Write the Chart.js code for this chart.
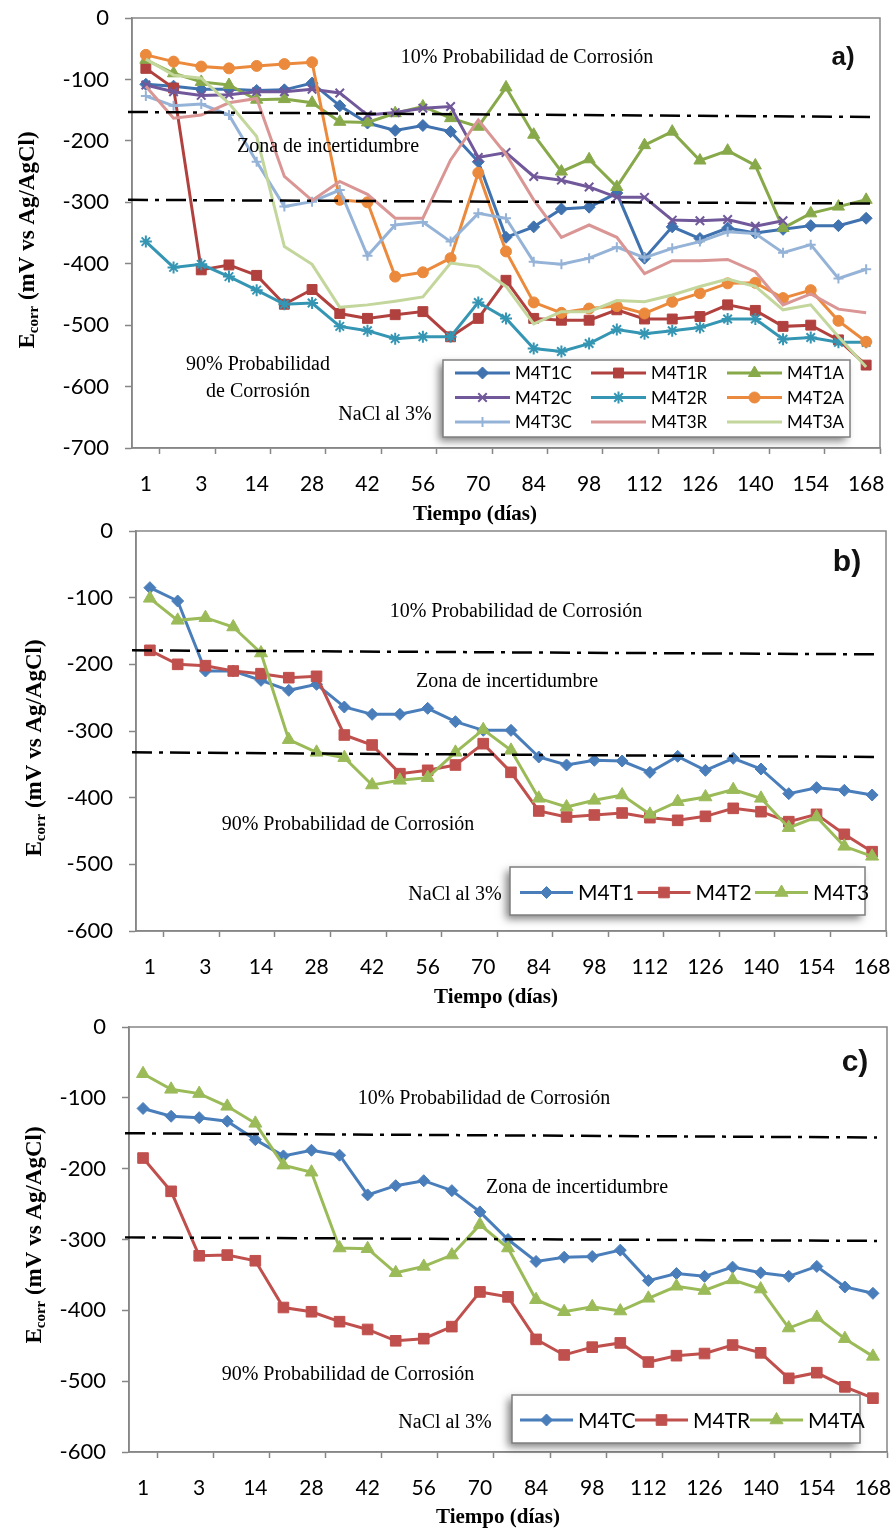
<!DOCTYPE html>
<html>
<head>
<meta charset="utf-8">
<title>Ecorr vs tiempo</title>
<script src="https://cdn.jsdelivr.net/npm/chart.js@4.4.1/dist/chart.umd.min.js"></script>
<style>
  html, body { margin: 0; padding: 0; background: #fff; }
  #wrap { position: relative; width: 896px; height: 1532px; overflow: hidden; }
  #wrap canvas { position: absolute; left: 0; }
</style>
</head>
<body>
<div id="wrap">
  <canvas id="chartA" width="896" height="530" style="top:0"></canvas>
  <canvas id="chartB" width="896" height="495" style="top:515px"></canvas>
  <canvas id="chartC" width="896" height="522" style="top:1010px"></canvas>
</div>
<script>
// Exposure days (every other one gets a label on the axis)
var days = ['1', '2', '3', '7', '14', '21', '28', '35', '42', '49', '56', '63', '70', '77',
            '84', '91', '98', '105', '112', '119', '126', '133', '140', '147', '154', '161', '168'];
var yTicksA = { min: -700, max: 0, step: 100 };
var yTicksBC = { min: -600, max: 0, step: 100 };

// a) individual specimens (mV vs Ag/AgCl)
var m4t1c = [-108, -111, -116, -116, -118, -117, -106, -143, -171, -183, -175, -185, -234, -357,
             -340, -311, -308, -285, -391, -340, -359, -342, -350, -344, -338, -338, -326];
var m4t1r = [-82, -114, -410, -402, -419, -466, -442, -481, -489, -483, -478, -519, -489, -427,
             -489, -492, -492, -475, -490, -490, -486, -467, -476, -502, -500, -524, -565];
var m4t1a = [-68, -90, -104, -109, -133, -132, -138, -169, -170, -155, -144, -163, -177, -113,
             -190, -250, -230, -275, -207, -185, -232, -216, -240, -342, -318, -307, -296];
var m4t2c = [-109, -120, -126, -125, -120, -120, -116, -122, -158, -154, -147, -144, -227, -219,
             -258, -264, -275, -292, -292, -329, -330, -328, -339, -330, null, null, null];
var m4t2r = [-364, -406, -401, -421, -443, -466, -464, -502, -509, -522, -519, -519, -463, -489,
             -538, -543, -530, -507, -514, -509, -504, -490, -490, -523, -520, -528, -528];
var m4t2a = [-60, -71, -79, -82, -78, -75, -72, -296, -300, -421, -414, -391, -252, -380,
             -463, -480, -473, -469, -481, -462, -448, -432, -431, -456, -443, -493, -527];
var m4t3c = [-127, -143, -140, -158, -234, -307, -299, -280, -387, -337, -332, -364, -318, -326,
             -397, -401, -391, -373, -390, -375, -364, -348, -351, -382, -369, -424, -409];
var m4t3r = [-111, -163, -158, -138, -131, -258, -297, -266, -287, -326, -326, -231, -166, -222,
             -296, -357, -337, -357, -416, -395, -395, -393, -413, -467, -449, -474, -480];
var m4t3a = [-67, -93, -98, -139, -193, -372, -401, -471, -467, -461, -454, -399, -405, -437,
             -498, -478, -478, -460, -462, -451, -437, -425, -437, -475, -467, -519, -568];

// b) average per mix
var m4t1 = [-85, -105, -210, -210, -224, -239, -230, -264, -275, -275, -266, -286, -299, -299,
            -339, -351, -344, -345, -362, -338, -359, -341, -357, -394, -385, -389, -396];
var m4t2 = [-179, -200, -202, -210, -214, -220, -218, -306, -321, -364, -359, -351, -319, -362,
            -420, -429, -426, -423, -430, -434, -428, -416, -421, -436, -425, -455, -481];
var m4t3 = [-101, -134, -130, -144, -183, -313, -332, -340, -381, -374, -370, -332, -298, -329,
            -401, -414, -404, -396, -425, -406, -399, -388, -401, -445, -429, -473, -488];

// c) average per curing type
var m4tc = [-115, -126, -128, -133, -159, -182, -174, -181, -237, -224, -217, -231, -261, -300,
            -331, -325, -324, -315, -358, -348, -352, -339, -347, -352, -338, -367, -376];
var m4tr = [-185, -232, -323, -322, -330, -396, -402, -416, -427, -443, -440, -423, -374, -381,
            -441, -463, -452, -446, -473, -464, -461, -449, -460, -496, -488, -508, -524];
var m4ta = [-66, -88, -94, -112, -136, -195, -205, -312, -313, -347, -338, -322, -279, -312,
            -385, -402, -395, -401, -383, -366, -372, -357, -370, -425, -410, -440, -465];

// ASTM limits as drawn (start / end value of each dash-dot line)
var limitsA = [[-153, -161], [-296, -302]];
var limitsB = [[-179, -185], [-332, -339]];
var limitsC = [[-150, -156], [-297, -302]];

var AXIS = '#868686';
var SANS = 'Lato, "Liberation Sans", sans-serif';
var SERIF = '"Liberation Serif", "Times New Roman", serif';

function series(label, data, color, marker, radius, markerLine) {
  return { label: label, data: data, color: color, marker: marker, radius: radius || 0, markerLine: markerLine || 1 };
}

// draws frame, limit lines, notes, axis titles and the boxed legend
function decorations(p) {
  return {
    id: 'decorations',
    afterDatasetsDraw: function (chart) {
      var ctx = chart.ctx, area = chart.chartArea, y = chart.scales.y;
      ctx.save();
      ctx.strokeStyle = AXIS;
      ctx.lineWidth = 1.5;
      ctx.strokeRect(area.left, area.top, area.right - area.left, area.bottom - area.top);

      ctx.strokeStyle = '#000';
      ctx.lineWidth = 2.5;
      ctx.setLineDash([20, 7, 4, 7]);
      p.limits.forEach(function (l) {
        ctx.beginPath();
        ctx.moveTo(area.left - 4, y.getPixelForValue(l[0]));
        ctx.lineTo(area.right - 10, y.getPixelForValue(l[1]));
        ctx.stroke();
      });
      ctx.restore();
    },
    afterDraw: function (chart) {
      var ctx = chart.ctx;
      ctx.save();
      ctx.fillStyle = '#000';
      ctx.textAlign = 'center';
      ctx.textBaseline = 'middle';

      ctx.font = '20px ' + SERIF;
      p.notes.forEach(function (n) { ctx.fillText(n[0], n[1], n[2]); });

      ctx.font = 'bold ' + p.tagSize + 'px ' + '"Liberation Sans", Arial, sans-serif';
      ctx.fillStyle = '#111';
      ctx.fillText(p.tag[0], p.tag[1], p.tag[2]);
      ctx.fillStyle = '#000';

      ctx.font = 'bold 21px ' + SERIF;
      ctx.fillText('Tiempo (días)', p.xTitle[0], p.xTitle[1]);

      // rotated y title with subscript
      ctx.save();
      ctx.translate(p.yTitle[0], p.yTitle[1]);
      ctx.rotate(-Math.PI / 2);
      ctx.textAlign = 'left';
      ctx.textBaseline = 'alphabetic';
      var big = 'bold 23px ' + SERIF, small = 'bold 15px ' + SERIF;
      ctx.font = big;
      var wE = ctx.measureText('E').width;
      var wRest = ctx.measureText(' (mV vs Ag/AgCl)').width;
      ctx.font = small;
      var wSub = ctx.measureText('corr').width;
      var x0 = -(wE + wSub + wRest) / 2;
      ctx.font = big;
      ctx.fillText('E', x0, 8);
      ctx.font = small;
      ctx.fillText('corr', x0 + wE, 12);
      ctx.font = big;
      ctx.fillText(' (mV vs Ag/AgCl)', x0 + wE + wSub, 8);
      ctx.restore();

      drawLegend(chart, p.legend);
      ctx.restore();
    }
  };
}

function drawLegend(chart, box) {
  var ctx = chart.ctx;
  ctx.save();
  ctx.shadowColor = 'rgba(0,0,0,0.5)';
  ctx.shadowBlur = 8;
  ctx.shadowOffsetX = -4;
  ctx.shadowOffsetY = 4;
  ctx.fillStyle = '#fff';
  ctx.fillRect(box.x, box.y, box.w, box.h);
  ctx.restore();

  ctx.save();
  ctx.strokeStyle = '#7f7f7f';
  ctx.lineWidth = 1.5;
  ctx.strokeRect(box.x, box.y, box.w, box.h);
  ctx.font = box.font + 'px ' + SANS;
  ctx.textAlign = 'left';
  ctx.textBaseline = 'middle';
  chart.data.datasets.forEach(function (ds, i) {
    var col = i % box.cols, row = Math.floor(i / box.cols);
    var lx = box.x + box.padX + col * box.colW;
    var ly = box.y + box.padY + row * box.rowH;
    ctx.strokeStyle = ds.borderColor;
    ctx.fillStyle = ds.borderColor;
    ctx.lineWidth = 3;
    ctx.beginPath();
    ctx.moveTo(lx, ly);
    ctx.lineTo(lx + box.lineLen, ly);
    ctx.stroke();
    if (ds.pointStyle) {
      ctx.lineWidth = ds.pointBorderWidth;
      Chart.helpers.drawPoint(ctx, { pointStyle: ds.pointStyle, radius: ds.pointRadius, borderWidth: ds.pointBorderWidth, rotation: 0 },
        lx + box.lineLen / 2, ly);
    }
    ctx.fillStyle = '#000';
    ctx.fillText(ds.label, lx + box.lineLen + 5, ly + 1);
  });
  ctx.restore();
}

function makePanel(id, p) {
  var n = p.series.length;
  var datasets = p.series.map(function (s, i) {
    return {
      label: s.label,
      data: s.data,
      borderColor: s.color,
      backgroundColor: s.color,
      pointBackgroundColor: s.color,
      pointBorderColor: s.color,
      pointStyle: s.marker || false,
      pointRadius: s.marker ? s.radius : 0,
      pointBorderWidth: s.markerLine,
      borderWidth: 3,
      tension: 0,
      spanGaps: false,
      order: n - i
    };
  });

  return new Chart(document.getElementById(id), {
    type: 'line',
    data: { labels: days, datasets: datasets },
    options: {
      responsive: false,
      animation: false,
      events: [],
      devicePixelRatio: 1,
      layout: { padding: { top: p.top, right: 896 - p.right, left: 0, bottom: 0 } },
      plugins: { legend: { display: false }, tooltip: { enabled: false } },
      scales: {
        x: {
          type: 'category',
          offset: true,
          grid: {
            offset: true,
            drawOnChartArea: false,
            drawTicks: true,
            tickLength: 6,
            tickWidth: 1.5,
            tickColor: function (c) {
              return (c.index === undefined || c.index % 2 === 1) ? AXIS : 'rgba(0,0,0,0)';
            }
          },
          border: { display: true, color: AXIS, width: 1.5 },
          ticks: {
            autoSkip: false,
            maxRotation: 0,
            minRotation: 0,
            padding: p.xPad,
            color: '#000',
            font: { family: SANS, size: 21 },
            callback: function (v, i) { return i % 2 === 0 ? days[i] : ''; }
          },
          afterFit: function (s) {
            s.height = p.xAxisH;
            s.paddingLeft = 0;
            s.paddingRight = 0;
          }
        },
        y: {
          min: p.yTicks.min,
          max: p.yTicks.max,
          ticks: { stepSize: p.yTicks.step, padding: p.yPad, color: '#000', font: { family: SANS, size: 22 } },
          grid: { drawOnChartArea: false, tickLength: 7, tickWidth: 1.5, tickColor: AXIS },
          border: { display: true, color: AXIS, width: 1.5 },
          afterFit: function (s) {
            // fixed plot box: keep label padding from pushing the area around
            s.width = p.left;
            s.paddingTop = 0;
            s.paddingBottom = 0;
          }
        }
      }
    },
    plugins: [decorations(p)]
  });
}

makePanel('chartA', {
  top: 18, right: 880, left: 132, xAxisH: 82, xPad: 18, yPad: 16,
  yTicks: yTicksA,
  limits: limitsA,
  series: [
    series('M4T1C', m4t1c, '#3F72AF', 'rectRot', 6),
    series('M4T1R', m4t1r, '#B0413E', 'rect', 7),
    series('M4T1A', m4t1a, '#88A94A', 'triangle', 7),
    series('M4T2C', m4t2c, '#71589A', 'crossRot', 6, 2),
    series('M4T2R', m4t2r, '#3596B4', 'star', 6, 2),
    series('M4T2A', m4t2a, '#EB8A3C', 'circle', 5.5),
    series('M4T3C', m4t3c, '#95B3D7', 'cross', 5, 2),
    series('M4T3R', m4t3r, '#D99694'),
    series('M4T3A', m4t3a, '#C3D69B')
  ],
  notes: [
    ['10% Probabilidad de Corrosión', 527, 58],
    ['Zona de incertidumbre', 328, 147],
    ['90% Probabilidad', 258, 365],
    ['de Corrosión', 258, 392],
    ['NaCl al 3%', 385, 415]
  ],
  tag: ['a)', 843, 58], tagSize: 26,
  xTitle: [475, 515],
  yTitle: [26, 240],
  legend: { x: 443, y: 360, w: 407, h: 77, cols: 3, colW: 136, rowH: 24.5, padX: 12, padY: 13, lineLen: 55, font: 17 }
});

makePanel('chartB', {
  top: 16, right: 886, left: 136, xAxisH: 79, xPad: 18, yPad: 16,
  yTicks: yTicksBC,
  limits: limitsB,
  series: [
    series('M4T1', m4t1, '#4A7EBB', 'rectRot', 6),
    series('M4T2', m4t2, '#C0504D', 'rect', 7.5),
    series('M4T3', m4t3, '#9BBB59', 'triangle', 7.5)
  ],
  notes: [
    ['10% Probabilidad de Corrosión', 516, 97],
    ['Zona de incertidumbre', 507, 167],
    ['90% Probabilidad de Corrosión', 348, 310],
    ['NaCl al 3%', 455, 380]
  ],
  tag: ['b)', 847, 48], tagSize: 30,
  xTitle: [496, 483],
  yTitle: [33, 233],
  legend: { x: 510, y: 352, w: 355, h: 48, cols: 3, colW: 117.5, rowH: 0, padX: 10, padY: 25.5, lineLen: 53, font: 21 }
});

makePanel('chartC', {
  top: 17, right: 887, left: 129, xAxisH: 80, xPad: 18, yPad: 16,
  yTicks: yTicksBC,
  limits: limitsC,
  series: [
    series('M4TC', m4tc, '#4A7EBB', 'rectRot', 6),
    series('M4TR', m4tr, '#C0504D', 'rect', 7.5),
    series('M4TA', m4ta, '#9BBB59', 'triangle', 7.5)
  ],
  notes: [
    ['10% Probabilidad de Corrosión', 484, 89],
    ['Zona de incertidumbre', 577, 178],
    ['90% Probabilidad de Corrosión', 348, 365],
    ['NaCl al 3%', 445, 413]
  ],
  tag: ['c)', 855, 53], tagSize: 30,
  xTitle: [498, 508],
  yTitle: [33, 225],
  legend: { x: 512, y: 385, w: 348, h: 48, cols: 3, colW: 115, rowH: 0, padX: 8, padY: 25, lineLen: 53, font: 21 }
});
</script>
</body>
</html>
